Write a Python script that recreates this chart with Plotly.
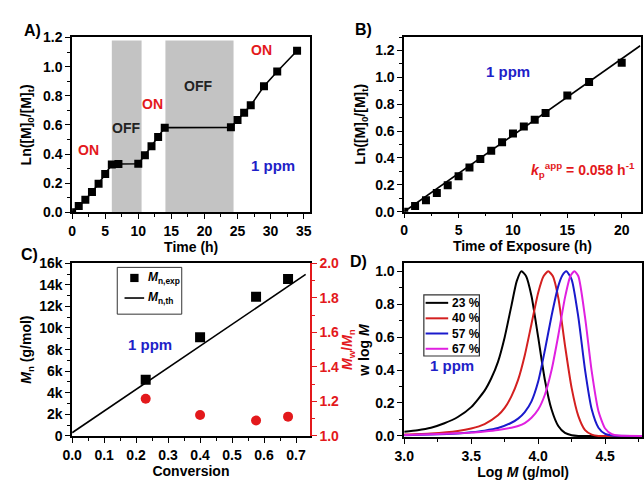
import plotly.graph_objects as go

# ---------------- data ----------------
# Panel A: light on/off kinetics
time_a = [0, 1, 2, 3, 4, 5, 6, 7, 10, 11, 12, 13, 14, 24, 25, 26, 27, 29, 31, 34]
ln_a = [0.0, 0.043, 0.086, 0.139, 0.196, 0.263, 0.328, 0.331, 0.333, 0.392, 0.454,
        0.516, 0.581, 0.583, 0.634, 0.684, 0.734, 0.865, 0.966, 1.109]
off_start = [6.0, 14.1]
off_end = [10.5, 24.4]
off_top = 1.18
a_labels = ["ON", "OFF", "ON", "OFF", "ON"]
a_label_x = [2.5, 8.1, 12.2, 19.1, 28.6]
a_label_y = [0.425, 0.58, 0.74, 0.87, 1.115]
a_label_col = ["red", "black", "red", "black", "red"]

# Panel B: vs time of exposure
time_b = [0, 1, 2, 3, 4, 5, 6, 7, 8, 9, 10, 11, 12, 13, 15, 17, 20]
ln_b = [0.0, 0.043, 0.086, 0.139, 0.196, 0.263, 0.328, 0.392, 0.454, 0.516, 0.581,
        0.634, 0.684, 0.734, 0.865, 0.966, 1.109]
fit_b_x = [0.0, 21.7]
fit_b_y = [0.0, 1.235]

# Panel C: Mn and dispersity vs conversion
conv_c = [0.23, 0.40, 0.575, 0.675]
mn_exp = [5200, 9150, 12900, 14550]
disp_c = [1.215, 1.121, 1.090, 1.112]
conv_th = [0.0, 0.73]
mn_th = [300, 14960]
c_names = ["<i>M</i><sub>n,exp</sub>", "<i>M</i><sub>n,th</sub>"]

# Panel D: GPC traces (w log M vs log M)
logm_black = [3.00, 3.10, 3.20, 3.30, 3.40, 3.50, 3.60, 3.65, 3.70, 3.75, 3.80, 3.84, 3.875,
              3.91, 3.95, 4.00, 4.05, 4.10, 4.15, 4.20, 4.25, 4.30, 4.50, 4.78]
w_black = [0.026, 0.035, 0.05, 0.077, 0.115, 0.175, 0.275, 0.35, 0.45, 0.60, 0.79, 0.94, 1.0,
           0.97, 0.85, 0.60, 0.34, 0.16, 0.06, 0.018, 0.004, 0.0, 0.0, 0.0]
logm_red = [3.00, 3.20, 3.40, 3.50, 3.60, 3.70, 3.75, 3.80, 3.85, 3.90, 3.95, 4.00, 4.04,
            4.075, 4.11, 4.15, 4.20, 4.25, 4.30, 4.35, 4.40, 4.45, 4.60, 4.78]
w_red = [0.008, 0.015, 0.03, 0.045, 0.072, 0.125, 0.17, 0.24, 0.34, 0.49, 0.68, 0.87, 0.97,
         1.0, 0.97, 0.84, 0.55, 0.29, 0.12, 0.035, 0.008, 0.0, 0.0, 0.0]
logm_blue = [3.00, 3.20, 3.40, 3.50, 3.60, 3.70, 3.80, 3.85, 3.90, 3.95, 4.00, 4.05, 4.10,
             4.15, 4.18, 4.21, 4.25, 4.30, 4.35, 4.40, 4.45, 4.50, 4.55, 4.78]
w_blue = [0.004, 0.008, 0.015, 0.022, 0.032, 0.048, 0.08, 0.105, 0.145, 0.21, 0.33, 0.52, 0.73,
          0.91, 0.975, 1.0, 0.95, 0.72, 0.40, 0.16, 0.05, 0.012, 0.002, 0.0]
logm_mag = [3.00, 3.20, 3.40, 3.50, 3.60, 3.70, 3.80, 3.85, 3.90, 3.95, 4.00, 4.05, 4.10,
            4.15, 4.20, 4.24, 4.27, 4.30, 4.35, 4.40, 4.45, 4.50, 4.55, 4.60, 4.78]
w_mag = [0.006, 0.01, 0.016, 0.02, 0.027, 0.036, 0.05, 0.06, 0.078, 0.11, 0.16, 0.25, 0.40,
         0.61, 0.84, 0.97, 1.0, 0.97, 0.72, 0.39, 0.15, 0.045, 0.01, 0.002, 0.0]
gpc_names = ["23 %", "40 %", "57 %", "67 %"]

# ---------------- style ----------------
FONT = "Liberation Sans, Arial, sans-serif"
RED = "#e3191c"
BLUE = "#1f1fc8"
CURVE_COLORS = ["black", "#d42020", "#1a1acc", "#e020e0"]
TICKF = dict(family=FONT, size=14, color="black", weight="bold")
TITLEF = dict(family=FONT, size=14, color="black", weight="bold")
W, H = 644, 481


def axis(domain, rng, dtick, minor, fmt, title, standoff, color="black", mirror=True, **kw):
    d = dict(domain=domain, range=rng, dtick=dtick, tick0=0, tickformat=fmt,
             showline=True, linecolor=color, linewidth=1.6, mirror=mirror,
             ticks="outside", ticklen=5, tickwidth=1.4, tickcolor=color,
             tickfont=dict(TICKF, color=color), showgrid=False, zeroline=False,
             minor=dict(dtick=minor, tick0=0, ticklen=3, tickwidth=1.2, tickcolor=color,
                        ticks="outside", showgrid=False),
             title=dict(text=title, font=dict(TITLEF, color=color), standoff=standoff))
    d.update(kw)
    return d


def px(x):
    return x / W


def py(y):
    return 1 - y / H


fig = go.Figure()

# Panel A
fig.add_trace(go.Scatter(x=time_a, y=ln_a, mode="lines+markers", xaxis="x", yaxis="y",
                         line=dict(color="black", width=1.6),
                         marker=dict(symbol="square", size=8, color="black"), showlegend=False))
# Panel B
fig.add_trace(go.Scatter(x=fit_b_x, y=fit_b_y, mode="lines", xaxis="x2", yaxis="y2",
                         line=dict(color="black", width=1.6), showlegend=False))
fig.add_trace(go.Scatter(x=time_b, y=ln_b, mode="markers", xaxis="x2", yaxis="y2",
                         marker=dict(symbol="square", size=8, color="black"), showlegend=False))
# Panel C
fig.add_trace(go.Scatter(x=conv_c, y=mn_exp, mode="markers", xaxis="x3", yaxis="y3",
                         name="Mn,exp", showlegend=False,
                         marker=dict(symbol="square", size=10, color="black")))
fig.add_trace(go.Scatter(x=conv_th, y=mn_th, mode="lines", xaxis="x3", yaxis="y3",
                         name="Mn,th", showlegend=False, line=dict(color="black", width=1.6)))
fig.add_trace(go.Scatter(x=conv_c, y=disp_c, mode="markers", xaxis="x3", yaxis="y5",
                         marker=dict(symbol="circle", size=10, color=RED), showlegend=False))
# Panel D
for xs, ys, nm, col in zip([logm_black, logm_red, logm_blue, logm_mag],
                           [w_black, w_red, w_blue, w_mag], gpc_names, CURVE_COLORS):
    fig.add_trace(go.Scatter(x=xs, y=ys, mode="lines", xaxis="x4", yaxis="y4", name=nm,
                             showlegend=False,
                             line=dict(color=col, width=2, shape="spline", smoothing=0.6)))

shapes = []
for x0, x1 in zip(off_start, off_end):
    shapes.append(dict(type="rect", xref="x", yref="y", x0=x0, x1=x1, y0=0, y1=off_top,
                       fillcolor="#c3c3c3", line=dict(width=0), layer="below"))

ann = []
for t, xx, yy, c in zip(a_labels, a_label_x, a_label_y, a_label_col):
    ann.append(dict(text=t, x=xx, y=yy, xref="x", yref="y", showarrow=False,
                    xanchor="center", yanchor="middle",
                    font=dict(family=FONT, size=14, weight="bold", color=RED if c == "red" else "#222")))
ann.append(dict(text="1 ppm", x=30.4, y=0.32, xref="x", yref="y", showarrow=False,
                font=dict(family=FONT, size=15, weight="bold", color=BLUE)))
ann.append(dict(text="1 ppm", x=9.5, y=1.045, xref="x2", yref="y2", showarrow=False,
                font=dict(family=FONT, size=15, weight="bold", color=BLUE)))
ann.append(dict(text="<i>k</i><sub>p</sub><sup>app</sup> = 0.058 h<sup>-1</sup>", x=16.4, y=0.31,
                xref="x2", yref="y2", showarrow=False,
                font=dict(family=FONT, size=14, weight="bold", color=RED)))
ann.append(dict(text="1 ppm", x=0.243, y=8450, xref="x3", yref="y3", showarrow=False,
                font=dict(family=FONT, size=15, weight="bold", color=BLUE)))
ann.append(dict(text="1 ppm", x=3.36, y=0.43, xref="x4", yref="y4", showarrow=False,
                font=dict(family=FONT, size=15, weight="bold", color=BLUE)))
for t, xx, yy in [("A)", 23, 23), ("B)", 360, 22), ("C)", 20, 255), ("D)", 355, 262)]:
    ann.append(dict(text=t, x=px(xx), y=py(yy), xref="paper", yref="paper", showarrow=False,
                    xanchor="center", yanchor="middle",
                    font=dict(family=FONT, size=16, weight="bold", color="black")))

# ---- legend of panel C (box, sample square, sample line, labels) ----
shapes.append(dict(type="rect", xref="paper", yref="paper", x0=px(109.3), x1=px(175),
                   y0=py(316.7), y1=py(268.3), line=dict(color="#333", width=1), fillcolor="white"))
shapes.append(dict(type="rect", xref="paper", yref="paper", x0=px(122.5), x1=px(131),
                   y0=py(283.5), y1=py(275), line=dict(width=0), fillcolor="black"))
shapes.append(dict(type="line", xref="paper", yref="paper", x0=px(116.7), x1=px(136.7),
                   y0=py(300), y1=py(300), line=dict(color="black", width=1.6)))
for nm, yy in zip(c_names, [279.5, 300]):
    ann.append(dict(text=nm, x=px(139), y=py(yy), xref="paper", yref="paper", showarrow=False,
                    xanchor="left", yanchor="middle",
                    font=dict(family=FONT, size=12, weight="bold", color="black")))

# ---- legend of panel D ----
shapes.append(dict(type="rect", xref="paper", yref="paper", x0=px(421.7), x1=px(478.3),
                   y0=py(360), y1=py(296.7), line=dict(color="#333", width=1.2), fillcolor="white"))
for nm, col, yy in zip(gpc_names, CURVE_COLORS, [305, 321, 336.7, 352.5]):
    shapes.append(dict(type="line", xref="paper", yref="paper", x0=px(423.5), x1=px(446.5),
                       y0=py(yy), y1=py(yy), line=dict(color=col, width=2)))
    ann.append(dict(text=nm, x=px(448), y=py(yy), xref="paper", yref="paper", showarrow=False,
                    xanchor="left", yanchor="middle",
                    font=dict(family=FONT, size=12, weight="bold", color="black")))

fig.update_layout(
    width=W, height=H, margin=dict(l=0, r=0, t=0, b=0),
    paper_bgcolor="white", plot_bgcolor="white", showlegend=False,
    font=dict(family=FONT, size=14, color="black", weight="bold"),
    shapes=shapes, annotations=ann,
    xaxis=axis([px(63.3), px(306)], [0, 36], 5, 2.5, "d", "Time (h)", 0, anchor="y"),
    yaxis=axis([py(211.3), py(30.5)], [0, 1.2], 0.2, 0.1, ".1f",
               "Ln([M]<sub>0</sub>/[M]<sub>t</sub>)", 8, anchor="x"),
    xaxis2=axis([px(401.7), px(642.5)], [0, 21.73], 5, 2.5, "d", "Time of Exposure (h)", 0, anchor="y2"),
    yaxis2=axis([py(210.7), py(30)], [0, 1.3], 0.2, 0.1, ".1f",
                "Ln([M]<sub>0</sub>/[M]<sub>t</sub>)", 6, anchor="x2"),
    xaxis3=axis([px(63.3), px(305.5)], [0, 0.743], 0.1, 0.05, ".1f", "Conversion", 0, anchor="y3"),
    yaxis3=axis([py(442.7), py(264)], [0, 16000], 2000, 1000, "~s",
                "<i>M</i><sub>n</sub> (g/mol)", 4, mirror=False, anchor="x3"),
    yaxis5=axis([py(442.7), py(264)], [1.0, 2.0], 0.2, 0.1, ".1f",
                "<i>M</i><sub>w</sub>/<i>M</i><sub>n</sub>", 0, color=RED, mirror=False,
                overlaying="y3", side="right", anchor="x3"),
    xaxis4=axis([px(401.7), 1.0], [3.0, 4.775], 0.5, 0.25, ".1f", "Log <i>M</i> (g/mol)", 0, anchor="y4"),
    yaxis4=axis([py(444), py(263.5)], [-0.008, 1.052], 0.2, 0.1, ".1f",
                "w log <i>M</i>", 2, anchor="x4"),
)

fig.write_html("out.html")
